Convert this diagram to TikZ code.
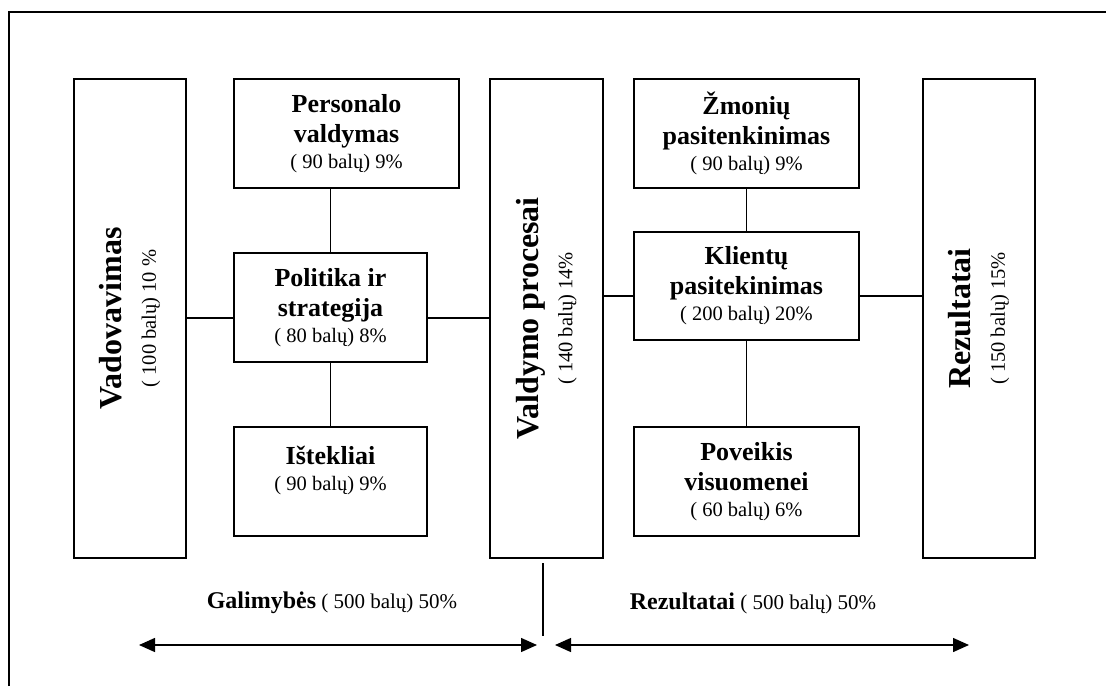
\documentclass[tikz,border=0pt]{standalone}
\usepackage{fontspec}
\setmainfont{Liberation Serif}
\usetikzlibrary{arrows.meta}

% Bold headings of the small and tall boxes
\newcommand{\hd}[1]{{\fontsize{26}{26}\selectfont\bfseries #1}}
\newcommand{\thd}[1]{{\fontsize{32}{34}\selectfont\bfseries #1}}

\begin{document}
\begin{tikzpicture}[x=1pt,y=-1pt,
  line width=1.3pt,
  frame/.style={line width=2pt},
  box/.style={draw, line width=1.3pt, inner sep=0pt, align=center,
    font=\fontsize{20.5}{26}\selectfont},
  tallbox/.style={draw, line width=1.3pt, minimum width=112pt, minimum height=479pt},
  smallbox/.style={box, minimum width=#1, minimum height=109pt},
  talltext/.style={rotate=90, align=center, inner sep=0pt,
    font=\fontsize{20.5}{34}\selectfont},
  link/.style={line width=1.3pt},
  span/.style={line width=1.4pt, {Triangle[length=16pt,width=14pt]}-{Triangle[length=16pt,width=14pt]}},
  caption/.style={inner sep=0pt, font=\fontsize{21}{24}\selectfont}
]
\useasboundingbox (0,0) rectangle (1106,686);

% page frame (only left and top edges fall inside the picture)
\coordinate (fTL) at (9,12);
\coordinate (fBL) at (9,686);
\coordinate (fTR) at (1106,12);
\draw[frame] (fBL) -- (fTL) -- (fTR);

% tall boxes
\node[tallbox] (vad) at (130,318.5) {};
\node[tallbox, minimum width=113pt] (proc) at (546.5,318.5) {};
\node[tallbox] (rez) at (979,318.5) {};

\node[talltext] (vadT) at (130,318.5) {\thd{Vadovavimas}\\( 100 balų) 10 \%};
\node[talltext] (procT) at (546.5,318.5) {\thd{Valdymo procesai}\\( 140 balų) 14\%};
\node[talltext] (rezT) at (979,318.5) {\thd{Rezultatai}\\( 150 balų) 15\%};

% left group
\node[smallbox=225pt] (pers) at (346.5,133.5) {\hd{Personalo}\\[4pt]\hd{valdymas}\\( 90 balų) 9\%};
\node[smallbox=193pt] (pol) at (330.5,307.5) {\hd{Politika ir}\\[4pt]\hd{strategija}\\( 80 balų) 8\%};
\node[smallbox=193pt] (ist) at (330.5,481.5) {\hd{Ištekliai}\\( 90 balų) 9\%\\\mbox{}};

% right group
\node[smallbox=225pt] (zmo) at (746.5,133.5) {\hd{Žmonių}\\[4pt]\hd{pasitenkinimas}\\( 90 balų) 9\%};
\node[smallbox=225pt, minimum height=108pt] (kli) at (746.5,286) {\hd{Klientų}\\[4pt]\hd{pasitekinimas}\\( 200 balų) 20\%};
\node[smallbox=225pt] (pov) at (746.5,481.5) {\hd{Poveikis}\\[4pt]\hd{visuomenei}\\( 60 balų) 6\%};

% connectors, left group
\draw[link] ([yshift=-10.5pt]pol.west) -- ([yshift=-10.5pt]pol.west -| vad.east);
\draw[link] ([yshift=-10.5pt]pol.east) -- ([yshift=-10.5pt]pol.east -| proc.west);
\draw[link] (pol.north) -- (pol.north |- pers.south);
\draw[link] (pol.south) -- (ist.north);

% connectors, right group
\draw[link] ([yshift=-10pt]kli.west) -- ([yshift=-10pt]kli.west -| proc.east);
\draw[link] ([yshift=-10pt]kli.east) -- ([yshift=-10pt]kli.east -| rez.west);
\draw[link] (kli.north) -- (zmo.south);
\draw[link] (kli.south) -- (pov.north);

% divider and the two spans below
\coordinate (divTop) at (543,563);
\coordinate (divBot) at (543,636);
\draw[line width=1.4pt] (divTop) -- (divBot);

\coordinate (galL) at (139,645);
\coordinate (galR) at (537,645);
\coordinate (rezL) at (555,645);
\coordinate (rezR) at (969,645);
\draw[span] (galL) -- (galR);
\draw[span] (rezL) -- (rezR);

\node[caption] (galC) at (332,603) {{\fontsize{24}{24}\selectfont\bfseries Galimybės} ( 500 balų) 50\%};
\node[caption] (rezC) at (753,603) {{\fontsize{24}{24}\selectfont\bfseries Rezultatai} ( 500 balų) 50\%};
\end{tikzpicture}
\end{document}
